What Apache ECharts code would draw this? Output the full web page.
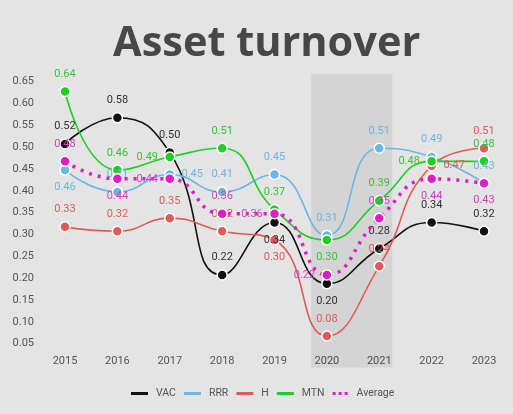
<!DOCTYPE html>
<html><head><meta charset="utf-8">
<script src="https://cdn.jsdelivr.net/npm/echarts@6/dist/echarts.min.js"></script>
<style>html,body{margin:0;padding:0;background:#e4e4e4}#c{width:513px;height:414px}</style>
</head><body><div id="c"></div>
<script>
const years = [2015, 2016, 2017, 2018, 2019, 2020, 2021, 2022, 2023];
const VAC = [0.52, 0.58, 0.50, 0.22, 0.34, 0.20, 0.28, 0.34, 0.32];
const RRR = [0.46, 0.41, 0.45, 0.41, 0.45, 0.31, 0.51, 0.49, 0.43];
const H = [0.33, 0.32, 0.35, 0.32, 0.30, 0.08, 0.24, 0.47, 0.51];
const MTN = [0.64, 0.46, 0.49, 0.51, 0.37, 0.30, 0.39, 0.48, 0.48];
const AVG = [0.48, 0.44, 0.44, 0.36, 0.36, 0.22, 0.35, 0.44, 0.43];
const highlight = [2019.7, 2021.25];

// label placement per point (style, not data)
const labelPos = {
  VAC: ['top','top','top','top','bottom','bottom','top','top','top'],
  RRR: ['bottom','top','right','top','top','top','top','top','top'],
  H:   ['top','top','top','top','bottom','top','top','right','top'],
  MTN: ['top','top','left','top','top','bottom','top','left','top'],
  Average: ['top','bottom','left','top','left','left','top','bottom','bottom']
};
const colors = {VAC:'#111111', RRR:'#6cb6e4', H:'#e05a5a', MTN:'#1fcf1f', Average:'#e01cc8'};
const labelColors = {VAC:'#333333', RRR:'#6cb6e4', H:'#e05a5a', MTN:'#33c633', Average:'#d640c4'};

function mk(name, vals, dotted) {
  return {
    name, type:'line', smooth:true, z: dotted ? 5 : 3, color: colors[name],
    symbol:'circle', symbolSize:10,
    itemStyle:{color:colors[name], borderColor:'#fff', borderWidth:1.5},
    lineStyle:{color:colors[name], width: dotted?3.5:1.6, type: dotted?[3,6]:'solid', cap:'butt'},
    label:{show:true, fontSize:11, color:labelColors[name], fontFamily:'Roboto', distance:6,
      formatter:p=>p.value[1].toFixed(2)},
    data: vals.map((v,i)=>({value:[years[i], v], label:{position:labelPos[name][i]}}))
  };
}
const series = [mk('VAC',VAC), mk('RRR',RRR), mk('H',H), mk('MTN',MTN), mk('Average',AVG,true)];
series[0].markArea = {silent:true, itemStyle:{color:'rgba(0,0,0,0.065)'},
  data:[[{xAxis:highlight[0], yAxis:0.008},{xAxis:highlight[1], yAxis:0.68}]]};

const legendItems = ['VAC','RRR','H','MTN','Average'].map(n => ({
  name:n,
  icon: n==='Average' ? 'path://M0,0h3v3h-3zM6,0h3v3h-3zM12,0h3v3h-3z' : 'rect',
  itemStyle:{color:colors[n], borderWidth:0}
}));

const chart = echarts.init(document.getElementById('c'), null, {renderer:'canvas'});
chart.setOption({
  backgroundColor:'#e4e4e4',
  animation:false,
  title:{text:'Asset turnover', left:108, top:18,
    textStyle:{fontFamily:'Open Sans', fontWeight:'bold', fontSize:41.5, color:'#474747'}},
  legend:{bottom:10, left:126, itemWidth:17, itemHeight:3, itemGap:8,
    textStyle:{fontFamily:'Roboto', fontSize:10.5, color:'#555', padding:[0,0,0,3]},
    data:legendItems},
  grid:{left:65, right:29, top:74, bottom:43},
  xAxis:{type:'value', min:2015, max:2023, interval:1,
    axisLine:{show:false}, axisTick:{show:false}, splitLine:{show:false},
    axisLabel:{inside:true, margin:4, fontSize:11, color:'#555', fontFamily:'Roboto', formatter:v=>String(v)}},
  yAxis:{type:'value', min:0, max:0.68, interval:0.05,
    axisLine:{show:false}, axisTick:{show:false}, splitLine:{show:false},
    axisLabel:{showMinLabel:false, showMaxLabel:false, margin:31, verticalAlign:'bottom', fontSize:11, color:'#555', fontFamily:'Roboto',
      formatter:v=>v.toFixed(2)}},
  series
});
</script></body></html>
